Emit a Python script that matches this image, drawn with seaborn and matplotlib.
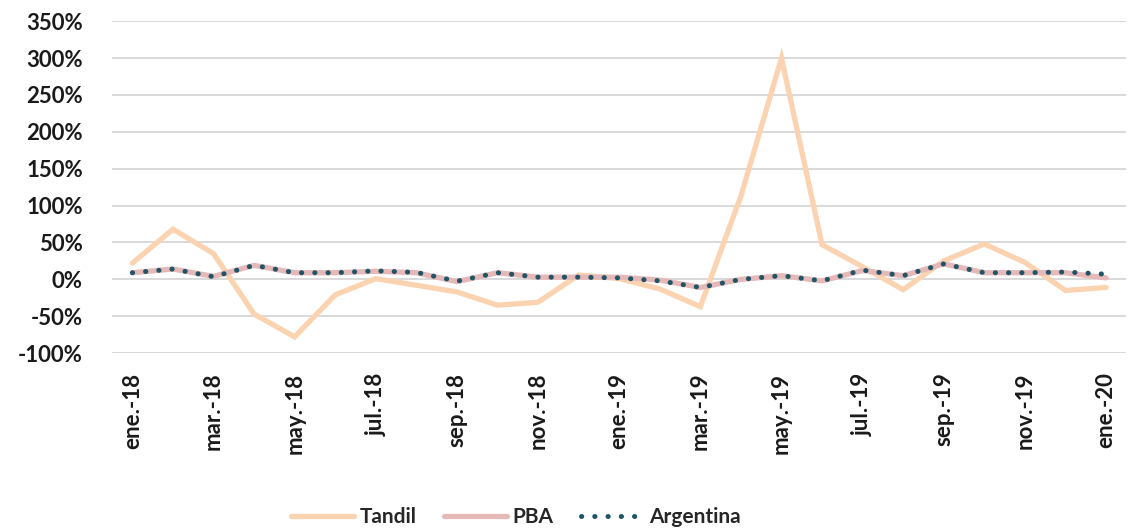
import matplotlib
matplotlib.use("Agg")
import matplotlib.pyplot as plt
from matplotlib.ticker import FuncFormatter, MultipleLocator
import seaborn as sns
import pandas as pd

months = [
    "ene.-18", "feb.-18", "mar.-18", "abr.-18", "may.-18", "jun.-18",
    "jul.-18", "ago.-18", "sep.-18", "oct.-18", "nov.-18", "dic.-18",
    "ene.-19", "feb.-19", "mar.-19", "abr.-19", "may.-19", "jun.-19",
    "jul.-19", "ago.-19", "sep.-19", "oct.-19", "nov.-19", "dic.-19",
    "ene.-20",
]
# variación mensual (%)
tandil = [22, 68, 35, -47, -78, -21, 1, -8, -17, -35, -31, 6,
          1, -13, -37, 113, 300, 47, 17, -14, 25, 48, 23, -15, -11]
pba = [9, 14, 4, 19, 9, 9, 11, 9, -3, 9, 3, 3,
       3, -1, -11, 0, 5, -2, 12, 5, 21, 9, 9, 9, 2]
argentina = [9, 14, 3.6, 19, 9, 9, 11.5, 9.5, -2.5, 9, 3, 3,
             2, -2, -11, 0, 5, -2, 12.5, 5, 21, 9, 9, 10, 7]

series_names = ["Tandil", "PBA", "Argentina"]
colors = {"Tandil": "#FBD3B0", "PBA": "#E6B9B8", "Argentina": "#1F5566"}

df = pd.DataFrame({
    "idx": list(range(len(months))) * 3,
    "valor": [v / 100 for v in tandil + pba + argentina],
    "serie": ["Tandil"] * len(months) + ["PBA"] * len(months) + ["Argentina"] * len(months),
})

sns.set_style("white")
plt.rcParams["font.family"] = ["Lato", "DejaVu Sans"]

fig = plt.figure(figsize=(11.32, 5.31), dpi=100)
ax = fig.add_axes([0.099, 0.335, 0.896, 0.625])

for name in series_names:
    sub = df[df["serie"] == name]
    sns.lineplot(data=sub, x="idx", y="valor", ax=ax, color=colors[name],
                 label=name, linewidth=3.8, sort=False, estimator=None)

lines = ax.get_lines()
lines[0].set_solid_joinstyle("miter")
lines[1].set_solid_joinstyle("round")
lines[2].set_linewidth(3.6)
lines[2].set_linestyle((0, (0.05, 2.6)))
lines[2].set_dash_capstyle("round")

ax.set_ylim(-1.0, 3.5)
ax.set_xlim(-0.5, len(months) - 0.5)
ax.yaxis.set_major_locator(MultipleLocator(0.5))
ax.yaxis.set_major_formatter(FuncFormatter(lambda v, p: f"{v * 100:.0f}%"))
ax.set_xticks(range(0, len(months), 2))
ax.set_xticklabels(months[::2], rotation=90)
ax.grid(axis="y", color="#D9D9D9", linewidth=1.4)
ax.set_axisbelow(True)
ax.set_xlabel("")
ax.set_ylabel("")
for s in ax.spines.values():
    s.set_visible(False)
ax.tick_params(axis="both", length=0, labelsize=16, labelcolor="#1a1a1a")
ax.tick_params(axis="y", pad=21)
ax.tick_params(axis="x", pad=14)
for t in ax.get_xticklabels() + ax.get_yticklabels():
    t.set_fontweight("bold")

ax.get_legend().remove()
handles, labels = ax.get_legend_handles_labels()
fig.legend(handles, labels, loc="center", bbox_to_anchor=(0.456, 0.026), ncol=3,
           frameon=False, handlelength=3.0, handletextpad=0.3, columnspacing=1.3,
           prop={"weight": "bold", "size": 15})

fig.savefig("out.png", dpi=100)
